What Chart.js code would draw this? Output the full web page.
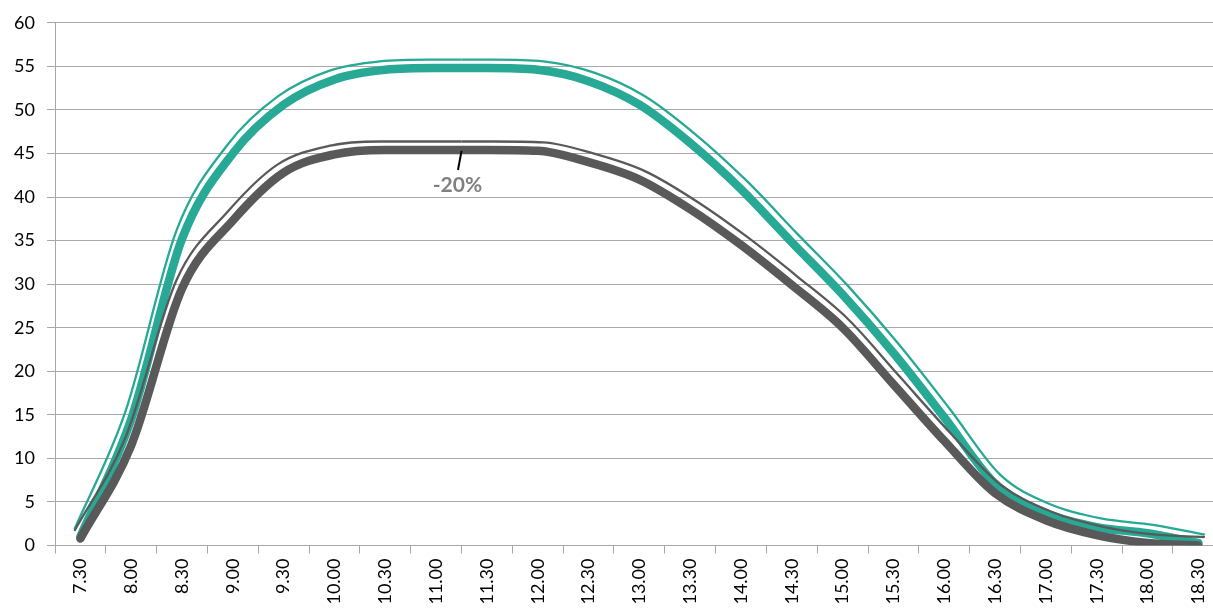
<!DOCTYPE html>
<html>
<head>
<meta charset="utf-8">
<script src="https://cdn.jsdelivr.net/npm/chart.js@4.4.1/dist/chart.umd.min.js"></script>
<style>
  html, body { margin: 0; padding: 0; background: #fff; overflow: hidden; }
  #chart { display: block; }
</style>
</head>
<body>
<canvas id="chart" width="1225" height="630" style="width:1225px;height:630px"></canvas>
<script>
// data
const labels = ['7.30', '8.00', '8.30', '9.00', '9.30', '10.00', '10.30', '11.00', '11.30', '12.00', '12.30',
    '13.00', '13.30', '14.00', '14.30', '15.00', '15.30', '16.00', '16.30', '17.00', '17.30', '18.00', '18.30'];
const tealValues = [1, 14.5, 35.2, 45, 50.6, 53.5, 54.6, 54.8, 54.8, 54.6, 53.3,
    50.6, 46.2, 40.9, 34.8, 28.8, 22.1, 14.7, 7.1, 3.7, 2.1, 1.4, 0.3];
const grayValues = [0.8, 11.5, 29.5, 37.3, 42.8, 44.9, 45.4, 45.4, 45.4, 45.3, 44,
    42, 38.6, 34.5, 29.9, 25, 18.5, 12, 6, 2.9, 1.2, 0.3, 0];
const yTicks = { min: 0, max: 60, step: 5 };
const noteText = '-20%';

const TEAL = '#27a995';
const GRAY = '#595959';
const GRID = '#a8a8a8';
const FONT = 'Lato, "Open Sans", sans-serif';

// thin outline of the double line: shifted up and outward
const OUT_DX = 5.5, OUT_DY = -8.5;

const doubleLine = {
    id: 'doubleLine',
    beforeDatasetDraw(chart, args) {
        const ds = chart.data.datasets[args.index];
        if (!ds.outline) return;
        const ctx = chart.ctx;
        const splitX = chart.scales.x.getPixelForValue(7.5);
        ctx.save();
        ctx.beginPath();
        ctx.rect(0, 0, splitX, chart.height);
        ctx.clip();
        ctx.translate(-OUT_DX, OUT_DY);
    },
    afterDatasetDraw(chart, args) {
        const ds = chart.data.datasets[args.index];
        if (!ds.outline) return;
        const ctx = chart.ctx;
        ctx.restore();
        const splitX = chart.scales.x.getPixelForValue(7.5);
        ctx.save();
        ctx.beginPath();
        ctx.rect(splitX, 0, chart.width - splitX, chart.height);
        ctx.clip();
        ctx.translate(OUT_DX, OUT_DY);
        args.meta.dataset.draw(ctx, chart.chartArea);
        ctx.restore();
    }
};

const noteLabel = {
    id: 'noteLabel',
    afterDraw(chart) {
        const { ctx, scales: { x, y } } = chart;
        ctx.save();
        ctx.strokeStyle = '#000';
        ctx.lineWidth = 2;
        ctx.beginPath();
        ctx.moveTo(x.getPixelForValue(7.5), y.getPixelForValue(45.3));
        ctx.lineTo(x.getPixelForValue(7.43), y.getPixelForValue(43.1));
        ctx.stroke();
        ctx.fillStyle = '#808080';
        ctx.font = 'bold 21px ' + FONT;
        ctx.textAlign = 'center';
        ctx.textBaseline = 'middle';
        ctx.fillText(noteText, x.getPixelForValue(7.42), y.getPixelForValue(41.3));
        ctx.restore();
    }
};

const lineStyle = { fill: false, cubicInterpolationMode: 'monotone', pointRadius: 0, borderCapStyle: 'round', borderJoinStyle: 'round' };

new Chart(document.getElementById('chart'), {
    type: 'line',
    data: {
        labels: labels,
        datasets: [
            { ...lineStyle, label: 'gray', data: grayValues, borderColor: GRAY, borderWidth: 8.5 },
            { ...lineStyle, label: 'gray outline', data: grayValues, borderColor: GRAY, borderWidth: 2.3, outline: true },
            { ...lineStyle, label: 'teal', data: tealValues, borderColor: TEAL, borderWidth: 8.5 },
            { ...lineStyle, label: 'teal outline', data: tealValues, borderColor: TEAL, borderWidth: 2.3, outline: true }
        ]
    },
    options: {
        responsive: false,
        devicePixelRatio: 1,
        animation: false,
        layout: { padding: { top: 19, right: 0, bottom: 0, left: 0 } },
        plugins: { legend: { display: false }, tooltip: { enabled: false } },
        scales: {
            x: {
                offset: true,
                grid: { display: true, offset: true, drawOnChartArea: false, drawTicks: true, tickLength: 8, color: GRID },
                border: { color: GRID },
                ticks: { color: '#000', font: { family: FONT, size: 18 }, minRotation: 90, maxRotation: 90, padding: 5, autoSkip: false },
                afterFit(scale) { scale.height = 84.5; }
            },
            y: {
                min: yTicks.min,
                max: yTicks.max,
                grid: { color: GRID, tickLength: 8 },
                border: { color: GRID },
                ticks: { stepSize: yTicks.step, color: '#000', font: { family: FONT, size: 18 }, padding: 12 },
                afterFit(scale) { scale.width = 55; }
            }
        }
    },
    plugins: [doubleLine, noteLabel]
});
</script>
</body>
</html>
